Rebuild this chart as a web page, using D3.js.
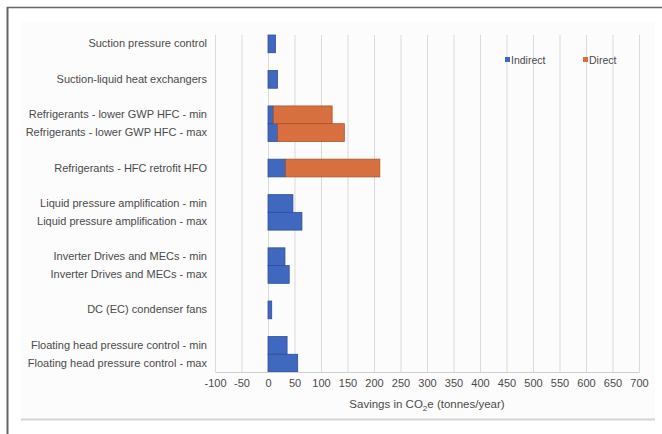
<!DOCTYPE html>
<html>
<head>
<meta charset="utf-8">
<script src="https://cdn.jsdelivr.net/npm/d3@7"></script>
<style>
  body { margin: 0; background: #fff; }
  svg text { font-family: "Liberation Sans", Arial, sans-serif; fill: #4a4a4a; }
</style>
</head>
<body>
<div id="chart"></div>
<script>
// blank entries are the spacer rows between groups
var categories = [
  'Suction pressure control', '',
  'Suction-liquid heat exchangers', '',
  'Refrigerants - lower GWP HFC - min',
  'Refrigerants - lower GWP HFC - max', '',
  'Refrigerants - HFC retrofit HFO', '',
  'Liquid pressure amplification - min',
  'Liquid pressure amplification - max', '',
  'Inverter Drives and MECs - min',
  'Inverter Drives and MECs - max', '',
  'DC (EC) condenser fans', '',
  'Floating head pressure control - min',
  'Floating head pressure control - max'
];
var indirect = [14, 0, 18, 0, 10, 18, 0, 33, 0, 47, 64, 0, 32, 40, 0, 7, 0, 36, 56];
var direct   = [0, 0, 0, 0, 111, 126, 0, 178, 0, 0, 0, 0, 0, 0, 0, 0, 0, 0, 0];
var seriesNames = ['Indirect', 'Direct'];
var xTicks = d3.range(-100, 701, 50);

var W = 662, H = 434;
var svg = d3.select('#chart')
  .append('svg')
    .attr('width', W)
    .attr('height', H);

// frame
svg.append('rect').attr('x', 21).attr('y', 22).attr('width', 634).attr('height', 397)
  .attr('fill', '#fcfcfc');
svg.append('line').attr('x1', 7).attr('x2', W).attr('y1', 7.5).attr('y2', 7.5)
  .attr('stroke', '#666').attr('stroke-width', 1.5);
svg.append('line').attr('x1', 7.5).attr('x2', 7.5).attr('y1', 7).attr('y2', H)
  .attr('stroke', '#666').attr('stroke-width', 2);
svg.append('line').attr('x1', 21).attr('x2', 655).attr('y1', 419.5).attr('y2', 419.5)
  .attr('stroke', '#d4d4d4').attr('stroke-width', 2);

var margin = { left: 215, right: 23, top: 35, bottom: 62 };
var x = d3.scaleLinear()
  .domain([-100, 700])
  .range([margin.left, W - margin.right]);
var y = d3.scaleBand()
  .domain(d3.range(categories.length))
  .range([margin.top, H - margin.bottom])
  .padding(0);

// gridlines
svg.append('g')
  .selectAll('line')
  .data(xTicks)
  .enter()
    .append('line')
      .attr('x1', function(d) { return x(d) + 0.5; })
      .attr('x2', function(d) { return x(d) + 0.5; })
      .attr('y1', margin.top)
      .attr('y2', H - margin.bottom)
      .attr('stroke', '#dadada')
      .attr('stroke-width', 1);

var rows = categories.map(function(c, i) {
  return { i: i, Indirect: indirect[i], Direct: direct[i] };
});
var stack = d3.stack().keys(seriesNames);
var color = d3.scaleOrdinal()
  .domain(seriesNames)
  .range(['#4068bf', '#d86f3f']);
var stroke = d3.scaleOrdinal()
  .domain(seriesNames)
  .range(['#2f4f99', '#a8532d']);

svg.append('g')
  .selectAll('g')
  .data(stack(rows))
  .enter()
    .append('g')
      .attr('fill', function(d) { return color(d.key); })
      .attr('stroke', function(d) { return stroke(d.key); })
    .selectAll('rect')
    .data(function(d) { return d.filter(function(s) { return s[1] > s[0]; }); })
    .enter()
      .append('rect')
        .attr('x', function(d) { return x(d[0]); })
        .attr('width', function(d) { return x(d[1]) - x(d[0]); })
        .attr('y', function(d) { return y(d.data.i); })
        .attr('height', y.bandwidth())
        .attr('stroke-width', 0.8);

// x axis
var xAxis = svg.append('g')
  .attr('transform', 'translate(0,' + (H - margin.bottom) + ')')
  .call(d3.axisBottom(x).tickValues(xTicks).tickSize(0).tickPadding(7)
    .tickFormat(function(d) { return String(d); }));
xAxis.select('.domain').attr('stroke', '#cfcfcf');
xAxis.selectAll('text').attr('font-size', 11).attr('fill', '#4a4a4a');

// y labels
var yAxis = svg.append('g')
  .attr('transform', 'translate(' + margin.left + ',0)')
  .call(d3.axisLeft(y).tickSize(0).tickPadding(8)
    .tickFormat(function(i) { return categories[i]; }));
yAxis.select('.domain').remove();
yAxis.selectAll('text').attr('font-size', 11).attr('fill', '#4a4a4a');

// axis title
var title = svg.append('text')
  .attr('x', (x(-100) + x(700)) / 2)
  .attr('y', 408)
  .attr('text-anchor', 'middle')
  .attr('font-size', 11.5);
title.append('tspan').text('Savings in CO');
title.append('tspan').attr('font-size', 8).attr('dy', 3).text('2');
title.append('tspan').attr('dy', -3).text('e (tonnes/year)');

// legend
var legend = svg.append('g')
  .selectAll('g')
  .data(seriesNames)
  .enter()
    .append('g')
      .attr('transform', function(d, i) { return 'translate(' + (505 + i * 78) + ',60)'; });
legend.append('rect')
  .attr('x', 0).attr('y', -3)
  .attr('width', 5).attr('height', 5)
  .attr('fill', function(d) { return color(d); });
legend.append('text')
  .attr('x', 6).attr('y', 4)
  .attr('font-size', 10.5)
  .text(function(d) { return d; });
</script>
</body>
</html>
